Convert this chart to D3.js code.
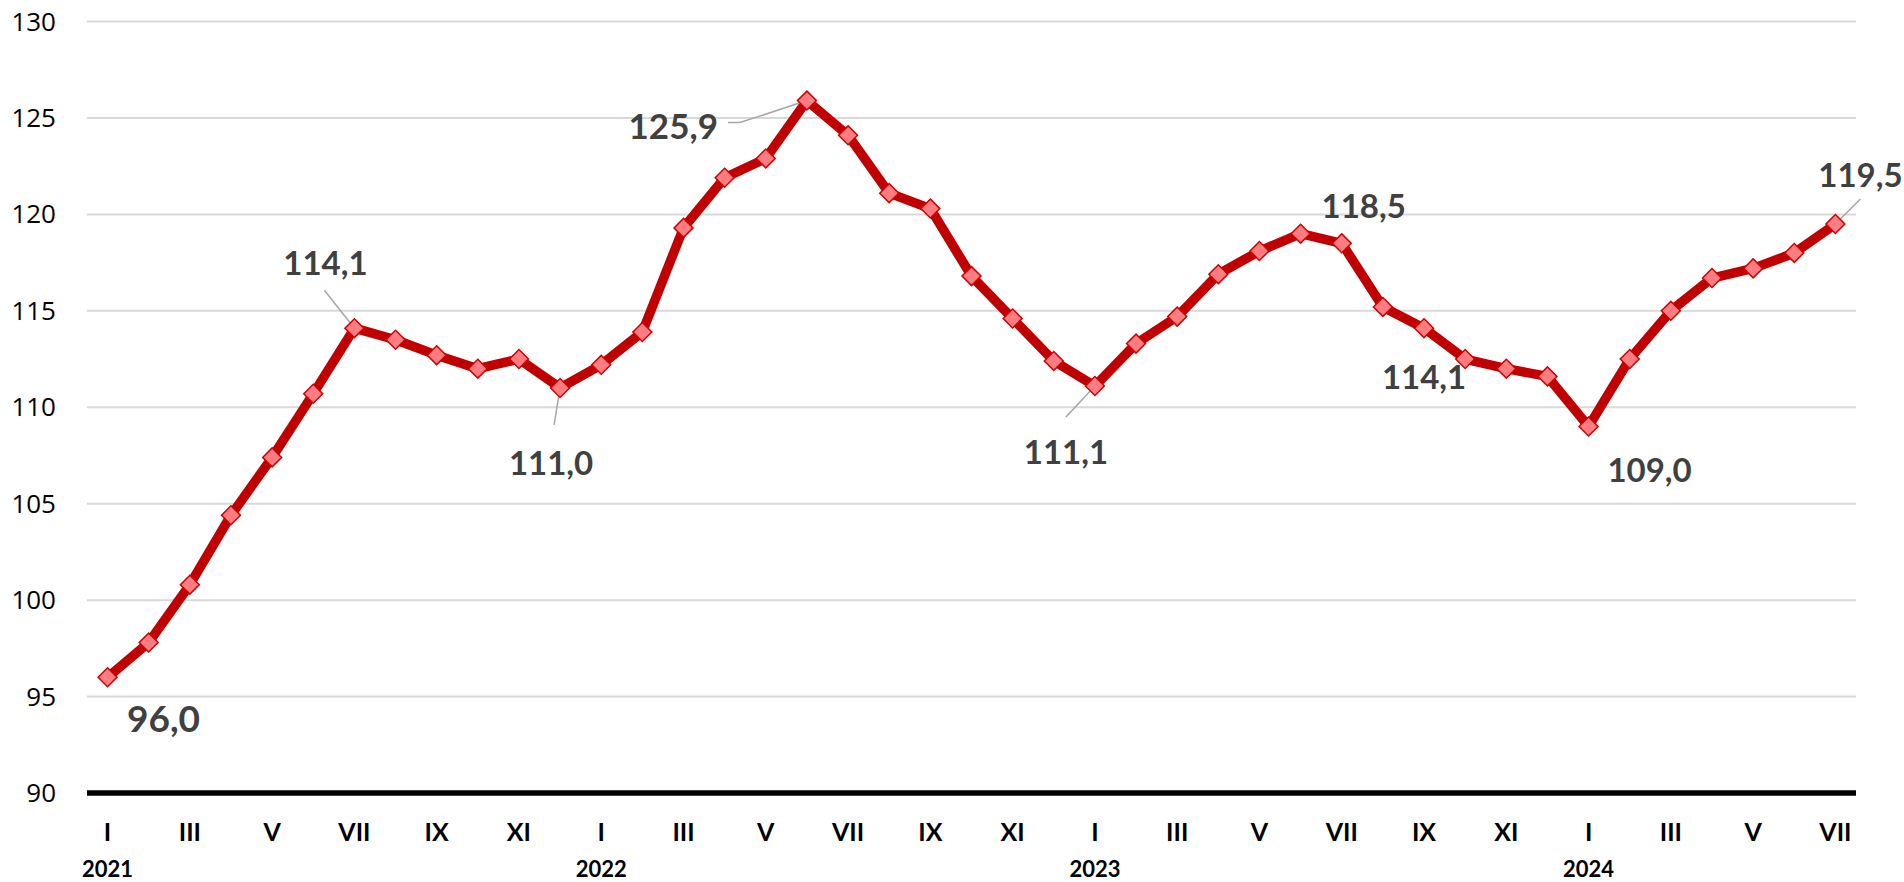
<!DOCTYPE html>
<html>
<head>
<meta charset="utf-8">
<script src="https://cdn.jsdelivr.net/npm/d3@7"></script>
<style>
  body { margin: 0; background: #fff; }
  svg text { font-family: Lato, "Open Sans", sans-serif; }
  .grid line { stroke: #d9d9d9; stroke-width: 2; }
  .ylab text { font-family: "Open Sans", Lato, sans-serif; font-size: 26px; fill: #000; }
  .xlab text { font-size: 25px; font-weight: bold; fill: #000; }
  .year text { font-size: 22px; font-weight: bold; fill: #000; }
  .dlab { font-size: 33px; font-weight: bold; fill: #404040; }
  .leader { stroke: #a6a6a6; stroke-width: 1.5; fill: none; }
</style>
</head>
<body>
<div id="chart"></div>
<script>
// monthly index, Jan 2021 - Jul 2024
var months = ["I","II","III","IV","V","VI","VII","VIII","IX","X","XI","XII"];
var years = ["2021","2022","2023","2024"];
var values = [
  96.0, 97.8, 100.8, 104.4, 107.4, 110.7, 114.1, 113.5, 112.7, 112.0, 112.5, 111.0,
  112.2, 113.9, 119.3, 121.9, 122.9, 125.9, 124.1, 121.1, 120.3, 116.8, 114.6, 112.4,
  111.1, 113.3, 114.7, 116.9, 118.1, 119.0, 118.5, 115.2, 114.1, 112.5, 112.0, 111.6,
  109.0, 112.5, 115.0, 116.7, 117.2, 118.0, 119.5
];
var yTicks = [90, 95, 100, 105, 110, 115, 120, 125, 130];
var labelIdx = [0, 6, 11, 17, 24, 30, 32, 36, 42];

var width = 1904, height = 882;
var margin = {top: 21.5, right: 48, bottom: 89, left: 87};

var data = values.map(function(v, i) {
  return {i: i, v: v, month: months[i % 12], year: years[Math.floor(i / 12)]};
});

var svg = d3.select("#chart").append("svg").attr("width", width).attr("height", height);

var x = d3.scalePoint().domain(data.map(d => d.i)).range([margin.left, width - margin.right]).padding(0.5);
var y = d3.scaleLinear().domain([90, 130]).range([height - margin.bottom, margin.top]);

// gridlines
svg.append("g").attr("class", "grid").selectAll("line").data(yTicks.slice(1)).join("line")
  .attr("x1", margin.left).attr("x2", width - margin.right)
  .attr("y1", d => y(d)).attr("y2", d => y(d));

// y labels
svg.append("g").attr("class", "ylab").selectAll("text").data(yTicks).join("text")
  .attr("x", 56).attr("y", d => y(d)).attr("dy", "0.35em").attr("text-anchor", "end")
  .text(d => d);

// base axis
svg.append("line").attr("x1", margin.left).attr("x2", width - margin.right)
  .attr("y1", y(90)).attr("y2", y(90)).attr("stroke", "#000").attr("stroke-width", 5.5);

// month labels every other month
var odd = data.filter(d => d.i % 2 === 0);
svg.append("g").attr("class", "xlab").selectAll("text").data(odd).join("text")
  .attr("x", d => x(d.i)).attr("y", 841).attr("text-anchor", "middle").text(d => d.month);

svg.append("g").attr("class", "year").selectAll("text").data(data.filter(d => d.i % 12 === 0)).join("text")
  .attr("x", d => x(d.i)).attr("y", 877).attr("text-anchor", "middle").text(d => d.year);

// line
var line = d3.line().x(d => x(d.i)).y(d => y(d.v));
svg.append("path").datum(data).attr("d", line)
  .attr("fill", "none").attr("stroke", "#c00000").attr("stroke-width", 9.5).attr("stroke-linejoin", "round");

// leader lines (drawn under markers)
var fmt = v => v.toFixed(1).replace(".", ",");
var place = {
  0:  {dx: 56, dy: 55, anchor: "middle", size: 37},
  6:  {dx: -29, dy: -53, anchor: "middle", lead: [[-30, -38], [0, 0]]},
  11: {dx: -9, dy: 87, anchor: "middle", lead: [[-6, 37], [0, 0]]},
  17: {dx: -89, dy: 38, anchor: "end", size: 35, lead: [[-79, 22], [-67, 22], [0, 0]]},
  24: {dx: -29, dy: 78, anchor: "middle", lead: [[-29, 31], [0, 0]]},
  30: {dx: 22, dy: -25, anchor: "middle"},
  32: {dx: 0, dy: 61, anchor: "middle"},
  36: {dx: 61, dy: 55, anchor: "middle"},
  42: {dx: 25, dy: -37, anchor: "middle", lead: [[25, -25], [0, 0]]}
};
var labelled = labelIdx.map(i => data[i]);
svg.append("g").selectAll("path").data(labelled.filter(d => place[d.i].lead)).join("path")
  .attr("class", "leader")
  .attr("d", d => d3.line()(place[d.i].lead.map(p => [x(d.i) + p[0], y(d.v) + p[1]])));

// diamond markers
svg.append("g").selectAll("path").data(data).join("path")
  .attr("transform", d => `translate(${x(d.i)},${y(d.v)}) rotate(45)`)
  .attr("d", "M-6.7,-6.7H6.7V6.7H-6.7Z")
  .attr("fill", "#ff7c80").attr("stroke", "#d00000").attr("stroke-width", 1.5);

// data labels
svg.append("g").selectAll("text").data(labelled).join("text")
  .attr("class", "dlab")
  .attr("x", d => x(d.i) + place[d.i].dx).attr("y", d => y(d.v) + place[d.i].dy)
  .attr("text-anchor", d => place[d.i].anchor)
  .style("font-size", d => place[d.i].size ? place[d.i].size + "px" : null)
  .text(d => fmt(d.v));
</script>
</body>
</html>
